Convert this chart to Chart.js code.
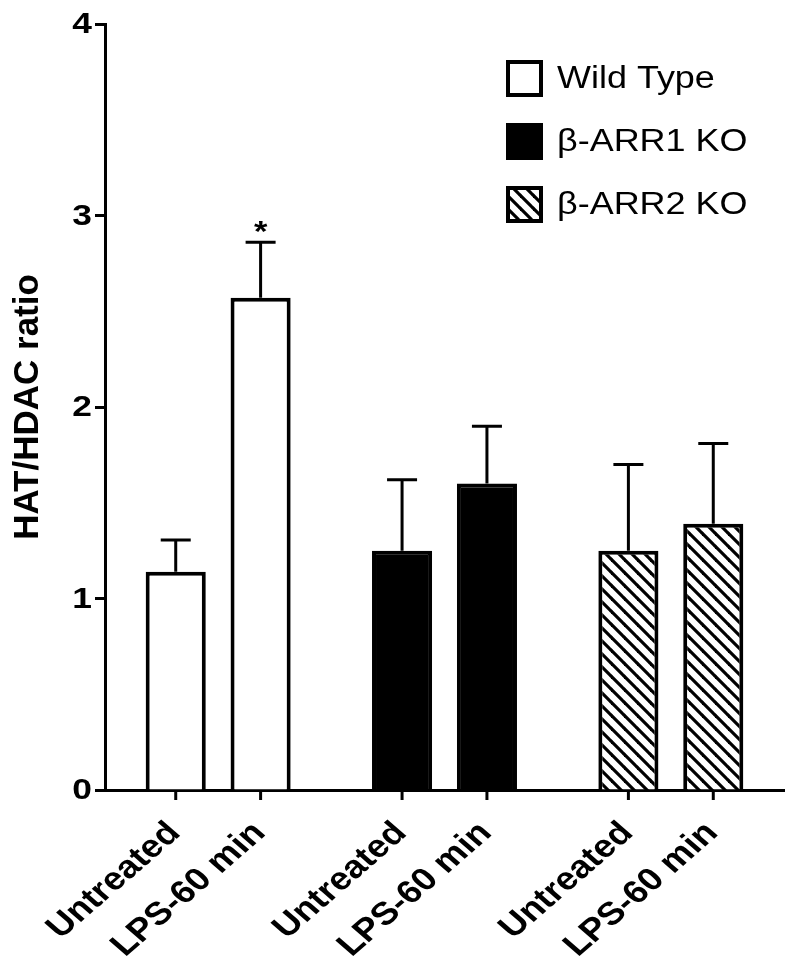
<!DOCTYPE html>
<html>
<head>
<meta charset="utf-8">
<script src="https://cdn.jsdelivr.net/npm/chart.js@4/dist/chart.umd.min.js"></script>
<style>
    body { margin: 0; background: #fff; }
    #wrap { width: 792px; height: 975px; }
</style>
</head>
<body>
<div id="wrap"><canvas id="grafica" width="792" height="975"></canvas></div>
<script>
// datos
const grupos = ['Wild Type', 'β-ARR1 KO', 'β-ARR2 KO'];
const condiciones = ['Untreated', 'LPS-60 min'];
const mediaUntreated = [1.14, 1.25, 1.25];
const errorUntreated = [0.165, 0.37, 0.45];
const mediaLps = [2.57, 1.60, 1.39];
const errorLps = [0.29, 0.30, 0.42];
const yTicks = [0, 1, 2, 3, 4];
const significativos = [[0, 1]]; // [grupo, condicion] con asterisco

const fuente = "'Liberation Sans', Arial, sans-serif";
Chart.defaults.font.family = fuente;
Chart.defaults.color = '#000';

// patron rayado para beta-ARR2
const rayado = (() => {
    const c = document.createElement('canvas');
    const s = 13;
    c.width = s; c.height = s;
    const g = c.getContext('2d');
    g.fillStyle = '#fff';
    g.fillRect(0, 0, s, s);
    g.strokeStyle = '#000';
    g.lineWidth = 3.2;
    [-s, 0, s].forEach(ox => {
        g.beginPath();
        g.moveTo(ox - 1, -1);
        g.lineTo(ox + s + 1, s + 1);
        g.stroke();
    });
    return g.createPattern(c, 'repeat');
})();

const rellenos = ['#fff', '#000', rayado];

// texto algo ensanchado, como en la figura original
const texto = (ctx, t, x, y, ancho, rot = 0) => {
    ctx.save();
    ctx.translate(x, y);
    ctx.scale(ancho, 1);
    ctx.rotate(rot);
    ctx.fillText(t, 0, 0);
    ctx.restore();
};

const extras = {
    id: 'extras',
    afterDatasetsDraw(chart) {
        const ctx = chart.ctx;
        const y = chart.scales.y;
        const errores = [errorUntreated, errorLps];
        const medias = [mediaUntreated, mediaLps];

        ctx.save();
        ctx.strokeStyle = '#000';
        ctx.fillStyle = '#000';

        // barras de error (solo hacia arriba)
        chart.data.datasets.forEach((ds, d) => {
            chart.getDatasetMeta(d).data.forEach((bar, i) => {
                const top = y.getPixelForValue(medias[d][i]);
                const tope = y.getPixelForValue(medias[d][i] + errores[d][i]);
                ctx.lineWidth = 3;
                ctx.beginPath();
                ctx.moveTo(bar.x, top);
                ctx.lineTo(bar.x, tope);
                ctx.moveTo(bar.x - 15, tope);
                ctx.lineTo(bar.x + 15, tope);
                ctx.stroke();
            });
        });

        // asteriscos
        ctx.font = `bold 30px ${fuente}`;
        ctx.textAlign = 'center';
        ctx.textBaseline = 'alphabetic';
        significativos.forEach(([i, d]) => {
            const bar = chart.getDatasetMeta(d).data[i];
            const tope = y.getPixelForValue(medias[d][i] + errores[d][i]);
            texto(ctx, '*', bar.x, tope - 1, 1.15);
        });

        // etiquetas del eje y
        ctx.font = `bold 29px ${fuente}`;
        ctx.textAlign = 'right';
        ctx.textBaseline = 'middle';
        yTicks.forEach(v => texto(ctx, String(v), y.right - 13, y.getPixelForValue(v) + 1, 1.22));

        // marcas y etiquetas del eje x
        const base = chart.chartArea.bottom;
        ctx.lineWidth = 3;
        ctx.font = `bold 32px ${fuente}`;
        ctx.textAlign = 'right';
        ctx.textBaseline = 'middle';
        chart.data.datasets.forEach((ds, d) => {
            chart.getDatasetMeta(d).data.forEach(bar => {
                ctx.beginPath();
                ctx.moveTo(bar.x, base);
                ctx.lineTo(bar.x, base + 10);
                ctx.stroke();
                texto(ctx, condiciones[d], bar.x - 1, base + 38, 1.15, -Math.PI / 4);
            });
        });

        // leyenda
        ctx.font = `31px ${fuente}`;
        ctx.textAlign = 'left';
        grupos.forEach((g, i) => {
            const bx = 506, by = 60 + i * 63, lado = 37;
            ctx.fillStyle = rellenos[i];
            ctx.fillRect(bx, by, lado, lado);
            ctx.lineWidth = 4;
            ctx.strokeRect(bx + 2, by + 2, lado - 4, lado - 4);
            ctx.fillStyle = '#000';
            texto(ctx, g, 557, by + lado / 2 + 1, 1.16);
        });
        ctx.restore();
    }
};

const ctx = document.getElementById('grafica').getContext('2d');
new Chart(ctx, {
    type: 'bar',
    data: {
        labels: grupos,
        datasets: [
            { label: condiciones[0], data: mediaUntreated },
            { label: condiciones[1], data: mediaLps }
        ].map(ds => ({
            ...ds,
            backgroundColor: rellenos,
            borderColor: '#000',
            borderWidth: 4,
            categoryPercentage: 0.75,
            barPercentage: 0.708
        }))
    },
    options: {
        responsive: false,
        animation: false,
        layout: { padding: { top: 24, right: 8, left: 0, bottom: 0 } },
        plugins: {
            legend: { display: false },
            tooltip: { enabled: false }
        },
        scales: {
            x: {
                grid: { display: false, drawTicks: false },
                border: { color: '#000', width: 3 },
                ticks: { display: false },
                afterFit: scale => { scale.height = 185; }
            },
            y: {
                min: 0,
                max: 4,
                afterBuildTicks: scale => { scale.ticks = yTicks.map(v => ({ value: v })); },
                grid: { drawOnChartArea: false, drawTicks: true, tickLength: 10, tickWidth: 3, tickColor: '#000' },
                border: { color: '#000', width: 3 },
                ticks: { display: false },
                title: {
                    display: true,
                    text: 'HAT/HDAC ratio',
                    font: { size: 35, weight: 'bold' },
                    color: '#000',
                    padding: { top: 7, bottom: 0 }
                },
                afterFit: scale => { scale.width = 105; }
            }
        }
    },
    plugins: [extras]
});
</script>
</body>
</html>
